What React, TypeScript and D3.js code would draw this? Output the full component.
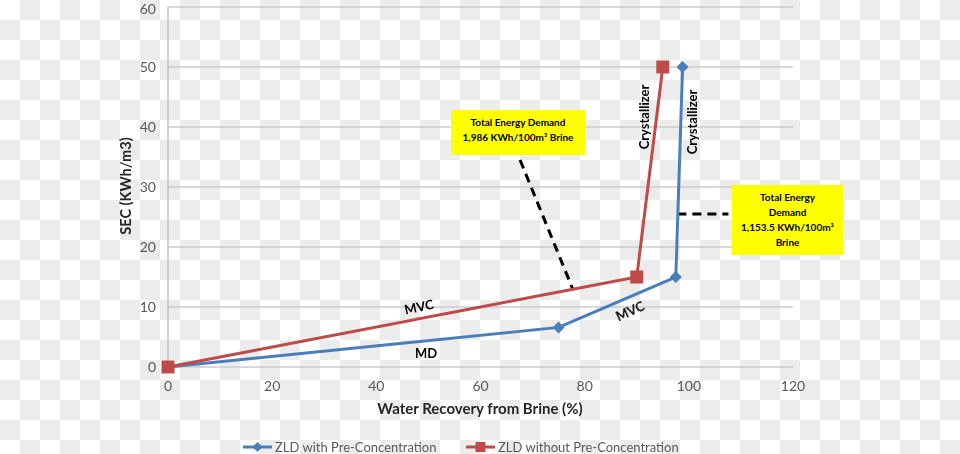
import React from "react";
import * as d3 from "d3";

const xTicks = [0, 20, 40, 60, 80, 100, 120];
const yTicks = [0, 10, 20, 30, 40, 50, 60];
const seriesNames = ["ZLD with Pre-Concentration", "ZLD without Pre-Concentration"];
const withPreX = [0, 75, 97.5, 98.8];
const withPreY = [0, 6.6, 15, 50];
const withoutPreX = [0, 90, 95];
const withoutPreY = [0, 15, 50];

const W = 960, H = 454;
const FONT = "Lato, 'Open Sans', sans-serif";
const BLUE = "#4A7EBB";
const RED = "#BE4B48";

export default function App() {
  const x = d3.scaleLinear().domain([0, 120]).range([168, 793]);
  const y = d3.scaleLinear().domain([0, 60]).range([367, 7]);
  const line = d3.line<[number, number]>().x(d => x(d[0])).y(d => y(d[1]));
  const blue: [number, number][] = withPreX.map((v, i) => [v, withPreY[i]]);
  const red: [number, number][] = withoutPreX.map((v, i) => [v, withoutPreY[i]]);

  const diamond = (cx: number, cy: number, r: number) =>
    `M${cx},${cy - r}L${cx + r},${cy}L${cx},${cy + r}L${cx - r},${cy}Z`;

  return (
    <svg width={W} height={H} style={{ position: "fixed", left: 0, top: 0 }} fontFamily={FONT}>
      <defs>
        <pattern id="chk" width={40} height={40} patternUnits="userSpaceOnUse">
          <rect width={40} height={40} fill="#ffffff" />
          <rect x={20} y={0} width={20} height={20} fill="#ececec" />
          <rect x={0} y={20} width={20} height={20} fill="#ececec" />
        </pattern>
      </defs>
      <rect width={W} height={H} fill="url(#chk)" />

      {yTicks.map(t => (
        <g key={"y" + t}>
          <line x1={x(0)} x2={x(120)} y1={y(t)} y2={y(t)} stroke="#cccccc" strokeWidth={1.5} />
          <text x={156} y={Math.max(y(t), 9)} dy="0.35em" textAnchor="end" fontSize={14} fill="#595959">{t}</text>
        </g>
      ))}
      <line x1={x(0)} x2={x(0)} y1={y(0)} y2={y(60)} stroke="#bfbfbf" strokeWidth={1.5} />
      {xTicks.map(t => (
        <text key={"x" + t} x={x(t)} y={386} dy="0.35em" textAnchor="middle" fontSize={14} fill="#595959">{t}</text>
      ))}

      <text x={480} y={409} dy="0.35em" textAnchor="middle" fontSize={15} fontWeight="bold" fill="#262626">Water Recovery from Brine (%)</text>
      <text transform={`translate(126,186) rotate(-90)`} dy="0.35em" textAnchor="middle" fontSize={14.5} fontWeight="bold" fill="#262626">SEC (KWh/m3)</text>

      {/* dashed connectors */}
      <line x1={x(67.6)} y1={y(34.5)} x2={x(77.8)} y2={y(12.8)} stroke="#000" strokeWidth={3} strokeDasharray="9,6" />
      <line x1={x(97.8)} y1={y(25.5)} x2={x(107.6)} y2={y(25.5)} stroke="#000" strokeWidth={3} strokeDasharray="9,6" />

      {/* series lines */}
      <path d={line(blue) || ""} fill="none" stroke={BLUE} strokeWidth={3} />
      {blue.map((d, i) => (
        <path key={"b" + i} d={diamond(x(d[0]), y(d[1]), 6)} fill={BLUE} />
      ))}
      <path d={line(red) || ""} fill="none" stroke={RED} strokeWidth={3} />
      {red.map((d, i) => (
        <rect key={"r" + i} x={x(d[0]) - 6.5} y={y(d[1]) - 6.5} width={13} height={13} fill={RED} />
      ))}

      {/* annotation boxes */}
      <rect x={451} y={110} width={134} height={45} fill="#ffff00" />
      <text x={518} y={122} dy="0.35em" textAnchor="middle" fontSize={10} fontWeight="bold" fill="#000">Total Energy Demand</text>
      <text x={518} y={137} dy="0.35em" textAnchor="middle" fontSize={10} fontWeight="bold" fill="#000">1,986 KWh/100m³ Brine</text>

      <rect x={732} y={185} width={111} height={70} fill="#ffff00" />
      <text x={787.5} y={197} dy="0.35em" textAnchor="middle" fontSize={10} fontWeight="bold" fill="#000">Total Energy</text>
      <text x={787.5} y={212} dy="0.35em" textAnchor="middle" fontSize={10} fontWeight="bold" fill="#000">Demand</text>
      <text x={787.5} y={227} dy="0.35em" textAnchor="middle" fontSize={10} fontWeight="bold" fill="#000">1,153.5 KWh/100m³</text>
      <text x={787.5} y={242} dy="0.35em" textAnchor="middle" fontSize={10} fontWeight="bold" fill="#000">Brine</text>

      {/* line labels */}
      <text transform="translate(644,117) rotate(-90)" dy="0.35em" textAnchor="middle" fontSize={13} fontWeight="bold" fill="#000">Crystallizer</text>
      <text transform="translate(692,122) rotate(-90)" dy="0.35em" textAnchor="middle" fontSize={13} fontWeight="bold" fill="#000">Crystallizer</text>
      <text transform="translate(419,307) rotate(-12)" dy="0.35em" textAnchor="middle" fontSize={13} fontWeight="bold" fill="#000">MVC</text>
      <text transform="translate(426,353)" dy="0.35em" textAnchor="middle" fontSize={13} fontWeight="bold" fill="#000">MD</text>
      <text transform="translate(630,311) rotate(-24)" dy="0.35em" textAnchor="middle" fontSize={13} fontWeight="bold" fill="#000">MVC</text>

      {/* legend */}
      <line x1={243} x2={272} y1={447} y2={447} stroke={BLUE} strokeWidth={3} />
      <path d={diamond(257.5, 447, 5)} fill={BLUE} />
      <text x={275} y={447} dy="0.35em" fontSize={13} fill="#595959">{seriesNames[0]}</text>
      <line x1={466} x2={495} y1={447} y2={447} stroke={RED} strokeWidth={3} />
      <rect x={475.5} y={442} width={10} height={10} fill={RED} />
      <text x={498} y={447} dy="0.35em" fontSize={13} fill="#595959">{seriesNames[1]}</text>
    </svg>
  );
}
